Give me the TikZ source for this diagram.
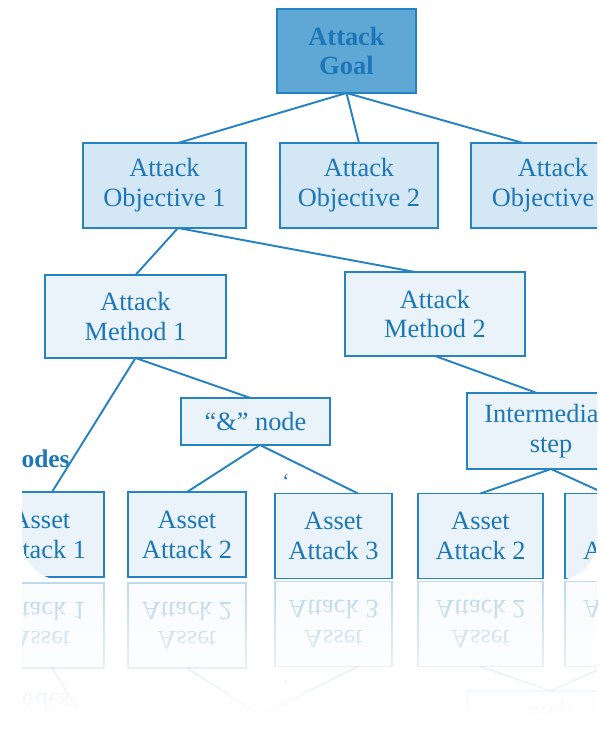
\documentclass[tikz,border=0pt]{standalone}
\usepackage{fontspec}
\setmainfont{Liberation Serif}
\usetikzlibrary{positioning}
\definecolor{azulBorde}{HTML}{2683C2}
\definecolor{azulTexto}{HTML}{1D77B6}
\definecolor{azulMeta}{HTML}{5FA8D5}
\definecolor{azulObjetivo}{HTML}{D4E7F4}
\definecolor{azulClaro}{HTML}{EAF3FA}
\tikzset{
  cajaBase/.style={
    draw=azulBorde, line width=1.1pt, align=center,
    inner sep=0pt, outer sep=0pt, text=azulTexto,
    font=\fontsize{15}{17}\selectfont, fill=azulClaro
  },
  cajaMeta/.style={cajaBase, fill=azulMeta, font=\fontsize{15}{17}\selectfont\bfseries},
  cajaObjetivo/.style={cajaBase, fill=azulObjetivo},
  cajaMetodo/.style={cajaBase},
  cajaActivo/.style={cajaBase, minimum height=1.7cm},
  linea/.style={azulBorde, line width=1.1pt},
  etiqueta/.style={text=azulTexto, inner sep=0pt},
}
\newcommand{\arbolAtaque}{%
  \node[cajaMeta, minimum width=2.78cm, minimum height=1.68cm] (meta) at (346.5,51) {Attack\\Goal};
  \node[cajaObjetivo, minimum width=3.26cm, minimum height=1.7cm] (obj1) at (164.5,185.5) {Attack\\Objective 1};
  \node[cajaObjetivo, minimum width=3.16cm, minimum height=1.7cm] (obj2) at (359,185.5) {Attack\\Objective 2};
  \node[cajaObjetivo, minimum width=3.28cm, minimum height=1.7cm] (obj3) at (553,185.5) {Attack\\Objective 3};
  \node[cajaMetodo, minimum width=3.62cm, minimum height=1.66cm] (metodo1) at (135.5,316.5) {Attack\\Method 1};
  \node[cajaMetodo, minimum width=3.6cm, minimum height=1.68cm] (metodo2) at (435,314) {Attack\\Method 2};
  \node[cajaMetodo, minimum width=2.98cm, minimum height=0.94cm] (nodoY) at (255.5,421.5) {``\&'' node};
  \node[cajaMetodo, minimum width=3.36cm, minimum height=1.52cm] (paso) at (551,431) {Intermediate\\step};
  \node[cajaActivo, minimum width=2.52cm] (activo1) at (41,534.5) {Asset\\Attack 1};
  \node[cajaActivo, minimum width=2.36cm] (activo2) at (187,534.5) {Asset\\Attack 2};
  \node[cajaActivo, minimum width=2.34cm] (activo3) at (333.5,536) {Asset\\Attack 3};
  \node[cajaActivo, minimum width=2.5cm] (activo4) at (480.5,536) {Asset\\Attack 2};
  \node[cajaActivo, minimum width=2.52cm] (activo5) at (628,536) {Asset\\Attack 3};
  \node[etiqueta, anchor=base east, font=\fontsize{14.5}{17}\selectfont\bfseries] (etiqNodos) at (70,467) {nodes};
  \node[etiqueta, font=\fontsize{12}{14}\selectfont] (marca) at (286,481) {`};
  \draw[linea] (meta.south) -- ([xshift=0.27cm]obj1.north);
  \draw[linea] (meta.south) -- (obj2.north);
  \draw[linea] (meta.south) -- ([xshift=-0.6cm]obj3.north);
  \draw[linea] ([xshift=0.27cm]obj1.south) -- (metodo1.north);
  \draw[linea] ([xshift=0.27cm]obj1.south) -- ([xshift=-0.4cm]metodo2.north);
  \draw[linea] (metodo1.south) -- ([xshift=0.22cm]activo1.north);
  \draw[linea] (metodo1.south) -- ([xshift=-0.1cm]nodoY.north);
  \draw[linea] (metodo2.south) -- ([xshift=-0.28cm]paso.north);
  \draw[linea] ([xshift=0.09cm]nodoY.south) -- (activo2.north);
  \draw[linea] ([xshift=0.09cm]nodoY.south) -- ([xshift=0.49cm]activo3.north);
  \draw[linea] (paso.south) -- (activo4.north);
  \draw[linea] (paso.south) -- ([xshift=-0.46cm]activo5.north);
}

\begin{document}
\begin{tikzpicture}[x=0.02cm, y=-0.02cm]
  \useasboundingbox (0,0) rectangle (603,736);
  \begin{scope}
    \clip[rounded corners=0.8cm] (22,-40) rectangle (597,580);
    \arbolAtaque
  \end{scope}
  \begin{scope}
    \clip (22,580) rectangle (597,736);
    \begin{scope}[shift={(0,1160)}, yscale=-1, transform shape, opacity=0.3]
      \arbolAtaque
    \end{scope}
  \end{scope}
  \foreach \i in {0,...,31}{
    \pgfmathsetmacro{\op}{min(1,(\i+1)/28)}
    \fill[white, opacity=\op] (0,580+5*\i) rectangle (603,585+5*\i);
  }
\end{tikzpicture}
\end{document}
